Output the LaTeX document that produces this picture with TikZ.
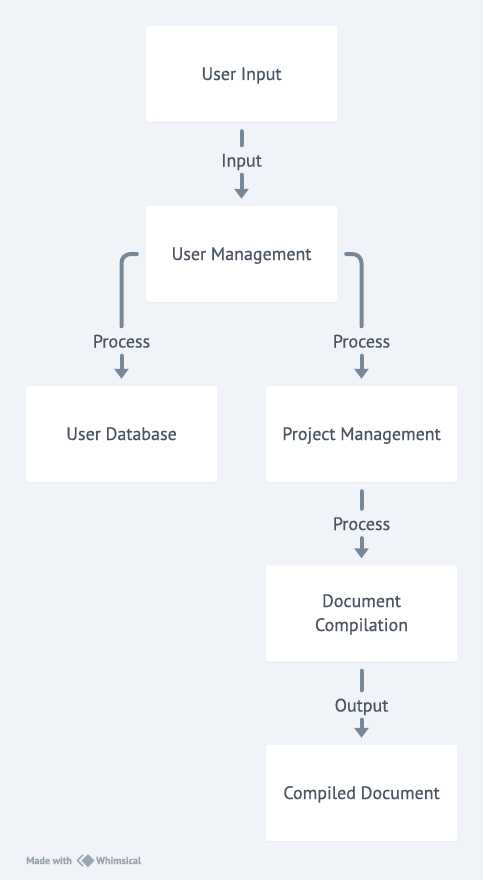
\documentclass[tikz,border=0pt]{standalone}
\usepackage{fontspec}
\setmainfont{PT Sans}[RawFeature={embolden=0.5}]
\usetikzlibrary{arrows.meta,shadows}
\definecolor{bgc}{HTML}{F0F3F7}
\definecolor{linec}{HTML}{778899}
\definecolor{textc}{HTML}{4A5563}
\definecolor{markc}{HTML}{9AA5B0}
\tikzset{
  x=1pt,y=-1pt,
  boxnode/.style={rectangle,rounded corners=2pt,fill=white,minimum width=191pt,minimum height=96pt,
    inner sep=0pt,align=center,text=textc,font=\fontsize{18}{24}\selectfont,
    text height=12pt,text depth=0pt,
    drop shadow={shadow xshift=0pt,shadow yshift=-1pt,opacity=.035,fill=black}},
  twolines/.style={text height=35pt},
  edgeline/.style={draw=linec,line width=4pt,line cap=round,shorten <=9pt,rounded corners=9pt},
  arrowline/.style={draw=linec,line width=4pt,line cap=round,shorten >=7pt,-{Triangle[length=10pt,width=14pt]}},
  edgelabel/.style={text=textc,font=\fontsize{18}{20}\selectfont,inner xsep=2pt,inner ysep=0pt,
    minimum height=29pt,text height=13pt,text depth=0pt},
  footnotetext/.style={text=markc,font=\fontsize{10.2}{11}\selectfont\bfseries,inner sep=0pt,anchor=west},
}
\begin{document}
\begin{tikzpicture}
\useasboundingbox (0,0) rectangle (483,880);
\fill[bgc] (0,0) rectangle (483,880);
\node[boxnode] (input) at (241.5,74) {User Input};
\node[boxnode] (mgmt) at (241.5,254) {User Management};
\node[boxnode] (db) at (121.5,434) {User Database};
\node[boxnode] (proj) at (361.5,434) {Project Management};
\node[boxnode,twolines] (comp) at (361.5,613.5) {Document\\Compilation};
\node[boxnode] (final) at (361.5,793) {Compiled Document};
\node[edgelabel] (l1) at (241.5,160) {Input};
\node[edgelabel] (l2) at (121.5,341) {Process};
\node[edgelabel] (l3) at (361.5,341) {Process};
\node[edgelabel] (l4) at (361.5,523.5) {Process};
\node[edgelabel] (l5) at (361.5,705) {Output};
\draw[edgeline] (input) -- (l1);
\draw[arrowline] (l1) -- (mgmt);
\draw[edgeline] (mgmt.west) -| (l2.north);
\draw[arrowline] (l2) -- (db);
\draw[edgeline] (mgmt.east) -| (l3.north);
\draw[arrowline] (l3) -- (proj);
\draw[edgeline] (proj) -- (l4);
\draw[arrowline] (l4) -- (comp);
\draw[edgeline] (comp) -- (l5);
\draw[arrowline] (l5) -- (final);
\node[footnotetext] (made) at (26,860.5) {Made with};
\node[footnotetext] (whim) at (96,860.5) {Whimsical};
\fill[markc] (88,854) -- (94.5,860.5) -- (88,867) -- (81.5,860.5) -- cycle;
\draw[markc,line width=1.4pt] (83,854.8) -- (77.5,860.5) -- (83,866.2);
\end{tikzpicture}
\end{document}
